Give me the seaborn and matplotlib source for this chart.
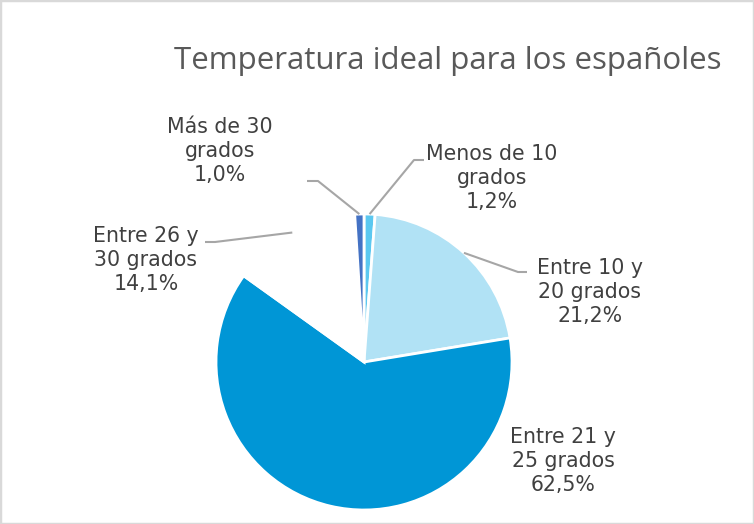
import numpy as np
import matplotlib
matplotlib.use("Agg")
import matplotlib.pyplot as plt
import seaborn as sns
from matplotlib.patches import Rectangle

# Data
categories = ["Menos de 10\ngrados", "Entre 10 y\n20 grados", "Entre 21 y\n25 grados",
              "Entre 26 y\n30 grados", "Más de 30\ngrados"]
values = [1.2, 21.2, 62.5, 14.1, 1.0]
colors = ["#5BC8F0", "#B1E2F5", "#0096D6", "#FFFFFF", "#4472C4"]

# label placement (pixel coords, y from top) and leader elbow points
label_pos = [(492, 178), (590, 292), (563, 461), (146, 260), (220, 151)]
label_elbow = [(424, 160), (527, 272), None, (205, 242), (307, 181)]
label_knee = [(414, 160), (518, 272), None, (215, 242), (318, 181)]

W, H = 754, 524
CX, CY, R = 364, 362, 148

sns.set_theme(style="white")
plt.rcParams["font.family"] = ["DejaVu Sans"]

fig = plt.figure(figsize=(W / 100, H / 100), dpi=100)
ax = fig.add_axes([0, 0, 1, 1])

wedges, _ = ax.pie(values, colors=colors, startangle=90, counterclock=False,
                   center=(CX, H - CY), radius=R,
                   wedgeprops=dict(edgecolor="white", linewidth=2))
ax.set_xlim(0, W)
ax.set_ylim(0, H)
ax.set_aspect("equal")
ax.axis("off")

for w, cat, val, pos, elbow, knee in zip(wedges, categories, values,
                                         label_pos, label_elbow, label_knee):
    txt = f"{cat}\n{val:.1f}%".replace(".", ",")
    ax.text(pos[0], H - pos[1], txt, ha="center", va="center",
            fontsize=14.8, color="#404040", linespacing=1.22,
            fontweight="medium")
    if elbow is None:
        continue
    mid = np.deg2rad((w.theta1 + w.theta2) / 2)
    ax_x = CX + R * np.cos(mid)
    ax_y = (H - CY) + R * np.sin(mid)
    ax.plot([elbow[0], knee[0], ax_x], [H - elbow[1], H - knee[1], ax_y],
            color="#A6A6A6", lw=1.5, solid_capstyle="butt")

fig.text(448 / W, 1 - 61 / H, "Temperatura ideal para los españoles",
         ha="center", va="center", fontsize=22.5, color="#595959",
         family=["Open Sans", "DejaVu Sans"])

fig.patches.append(Rectangle((0, 0), 1, 1, transform=fig.transFigure,
                             fill=False, edgecolor="#D9D9D9", lw=2.5))

fig.savefig("out.png", dpi=100, facecolor="white")
